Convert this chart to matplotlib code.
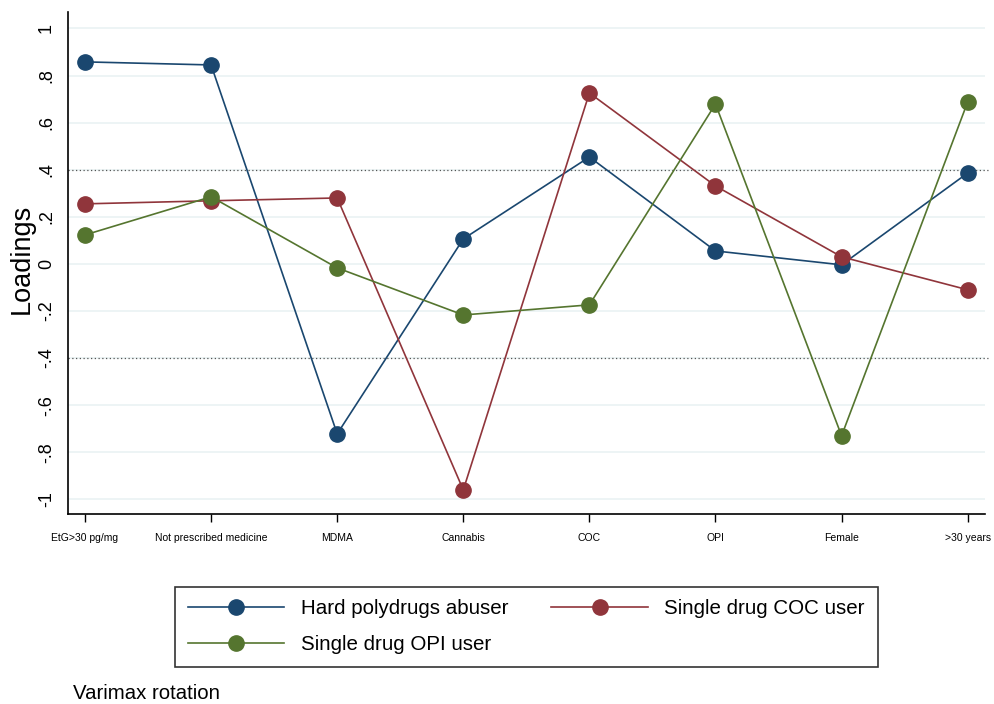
import matplotlib.pyplot as plt
import numpy as np

## loadings
variables = ['EtG>30 pg/mg', 'Not prescribed medicine', 'MDMA', 'Cannabis',
             'COC', 'OPI', 'Female', '>30 years']
hard_poly = [0.858, 0.845, -0.722, 0.106, 0.454, 0.055, -0.004, 0.386]
coc_user = [0.255, 0.268, 0.280, -0.960, 0.726, 0.331, 0.030, -0.110]
opi_user = [0.123, 0.285, -0.017, -0.217, -0.174, 0.679, -0.730, 0.688]
yticks = [-1, -0.8, -0.6, -0.4, -0.2, 0, 0.2, 0.4, 0.6, 0.8, 1]
ytick_labels = ['-1', '-.8', '-.6', '-.4', '-.2', '0', '.2', '.4', '.6', '.8', '1']

plt.rcParams['font.family'] = ['Liberation Sans', 'DejaVu Sans']

fig = plt.figure(figsize=(9.95, 7.04), dpi=100)
ax = fig.add_axes([0.0683, 0.27, 0.922, 0.713])

x = np.arange(len(variables))
lines = {}
for vals, col, lab in [(hard_poly, '#1a476f', 'Hard polydrugs abuser'),
                       (coc_user, '#90353b', 'Single drug COC user'),
                       (opi_user, '#55752f', 'Single drug OPI user')]:
	lines[lab], = ax.plot(x, vals, color=col, lw=1.2, marker='o', ms=11, label=lab, zorder=3)

## grid + cutoff lines
for yv in yticks:
	ax.axhline(yv, color='#eaf2f3', lw=1.2, zorder=0)
for yv in [0.4, -0.4]:
	ax.plot([-0.135, 7.18], [yv, yv], color='#555555', lw=0.9, ls=(0, (1, 2)), zorder=1, clip_on=False)

ax.set_xlim(-0.135, 7.14)
ax.set_ylim(-1.062, 1.07)
ax.set_yticks(yticks)
ax.set_yticklabels(ytick_labels, rotation=90, va='center', fontsize=13)
ax.set_xticks(x)
ax.set_xticklabels(variables, fontsize=7.5)
ax.tick_params(axis='x', length=6, width=1, color='black', pad=8)
ax.tick_params(axis='y', length=0, pad=9.4)
ax.set_ylabel('Loadings', fontsize=19.5)
ax.yaxis.set_label_coords(-0.036, 0.508)

for s in ['top', 'right']:
	ax.spines[s].set_visible(False)
for s in ['left', 'bottom']:
	ax.spines[s].set_linewidth(1.2)

## row order: hard, coc / opi
order = ['Hard polydrugs abuser', 'Single drug OPI user', 'Single drug COC user']
leg = fig.legend([lines[k] for k in order], order, ncol=2, loc='center',
                 bbox_to_anchor=(0.529, 0.110),
                 fontsize=14.8, frameon=True, fancybox=False, edgecolor='black',
                 handlelength=4.7, handletextpad=0.8, columnspacing=2.1,
                 borderpad=0.62, labelspacing=0.8)
leg.get_frame().set_linewidth(1.2)

fig.text(0.073, 0.007, 'Varimax rotation', fontsize=14.7)

fig.savefig('out.png', dpi=100)
